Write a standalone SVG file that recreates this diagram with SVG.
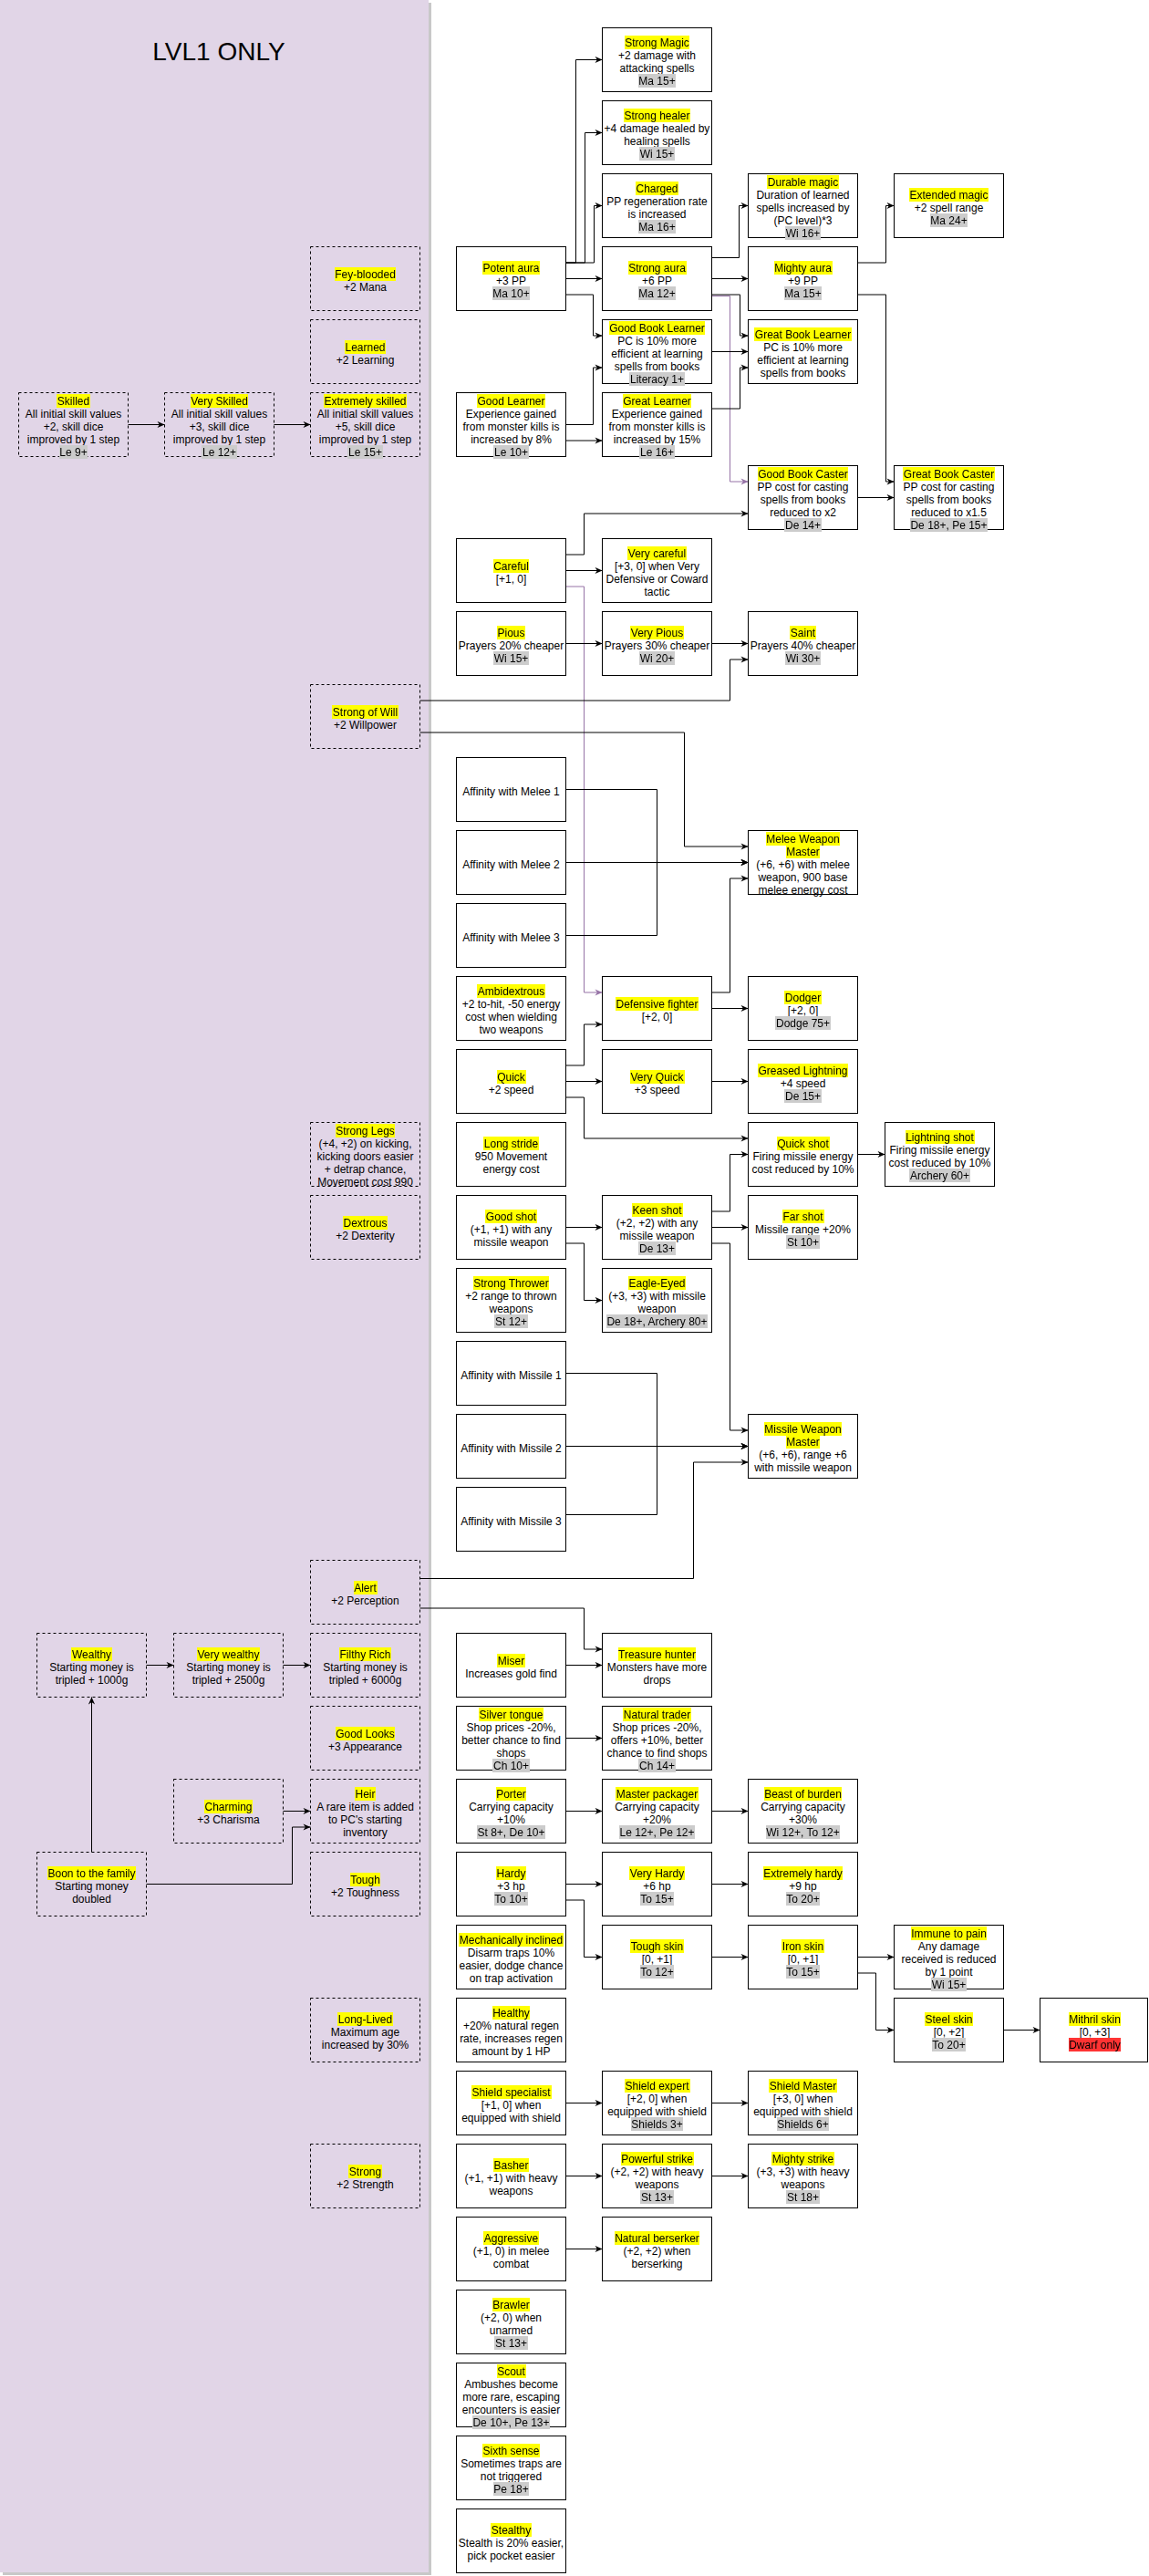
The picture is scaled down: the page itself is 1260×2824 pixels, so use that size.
<svg xmlns="http://www.w3.org/2000/svg" width="1260" height="2824" viewBox="0 0 1260 2824">
<defs>
<style>
text{font-family:"Liberation Sans",Arial,Helvetica,sans-serif;font-size:12px;text-anchor:middle;fill:#000}
.n rect{fill:#fff;stroke:#000;stroke-width:1}
.d rect{fill:none;stroke:#000;stroke-width:1;stroke-dasharray:3 3}
.t{filter:url(#hy)}
.r{filter:url(#hg)}
.w{filter:url(#hr)}
.e{fill:none;stroke:#000;stroke-width:1;marker-end:url(#a)}
.p{fill:none;stroke:#9673a6;stroke-width:1;marker-end:url(#ap)}
</style>
<filter id="hy" x="0" y="0" width="1" height="1" color-interpolation-filters="sRGB"><feFlood flood-color="#ffff00"/><feComposite in="SourceGraphic" operator="over"/></filter>
<filter id="hg" x="0" y="0" width="1" height="1" color-interpolation-filters="sRGB"><feFlood flood-color="#cccccc"/><feComposite in="SourceGraphic" operator="over"/></filter>
<filter id="hr" x="0" y="0" width="1" height="1" color-interpolation-filters="sRGB"><feFlood flood-color="#ff3333"/><feComposite in="SourceGraphic" operator="over"/></filter>
<marker id="a" viewBox="0 0 10 10" refX="10" refY="5" markerWidth="9" markerHeight="8" orient="auto" markerUnits="userSpaceOnUse"><path d="M0,0.5 L10,5 L0,9.5 L3,5 z" fill="#000"/></marker>
<marker id="ap" viewBox="0 0 10 10" refX="10" refY="5" markerWidth="9" markerHeight="8" orient="auto" markerUnits="userSpaceOnUse"><path d="M0,0.5 L10,5 L0,9.5 L3,5 z" fill="#9673a6"/></marker>
</defs>
<rect x="3" y="3" width="470" height="2820" fill="#c8c8c8"/>
<rect x="0" y="0" width="470" height="2820" fill="#e1d5e7"/>
<text x="240" y="66" style="font-size:28px">LVL1 ONLY</text>
<g transform="translate(0.5,0.5)">
<g id="edges">
<path class="e" d="M620,287.5H631V65H660"/>
<path class="e" d="M620,287.5H641V145H660"/>
<path class="e" d="M620,287.5H651V225H660"/>
<path class="e" d="M620,305H660"/>
<path class="e" d="M620,322.5H650V367.5H660"/>
<path class="e" d="M780,282H810V225H820"/>
<path class="e" d="M780,305H820"/>
<path class="p" d="M780,324H800V527.5H820"/>
<path class="e" d="M780,322.5H811V367.5H820"/>
<path class="e" d="M780,385H820"/>
<path class="e" d="M620,465H650V402.5H660"/>
<path class="e" d="M620,482.5H660"/>
<path class="e" d="M780,447.5H811V402.5H820"/>
<path class="e" d="M940,287.5H971V225H980"/>
<path class="e" d="M940,322.5H971V527.5H980"/>
<path class="e" d="M940,545H980"/>
<path class="e" d="M620,607.5H640V562.5H820"/>
<path class="e" d="M620,625H660"/>
<path class="p" d="M620,642.5H640V1087.5H660"/>
<path class="e" d="M620,705H660"/>
<path class="e" d="M780,705H820"/>
<path class="e" d="M460,767.5H800V722.5H820"/>
<path class="e" d="M460,802.5H750V927.5H820"/>
<path class="e" d="M620,865H720V945H820"/>
<path class="e" d="M620,945H820"/>
<path class="e" d="M620,1025H720V945H820"/>
<path class="e" d="M780,1087.5H800V962.5H820"/>
<path class="e" d="M780,1105H820"/>
<path class="e" d="M620,1167.5H640V1122.5H660"/>
<path class="e" d="M620,1185H660"/>
<path class="e" d="M780,1185H820"/>
<path class="e" d="M620,1202.5H640V1247.5H820"/>
<path class="e" d="M940,1265H970"/>
<path class="e" d="M620,1345H660"/>
<path class="e" d="M780,1327.5H800V1265H820"/>
<path class="e" d="M780,1345H820"/>
<path class="e" d="M620,1362.5H640V1425H660"/>
<path class="e" d="M780,1362.5H800V1567.5H820"/>
<path class="e" d="M620,1505H720V1585H820"/>
<path class="e" d="M620,1585H820"/>
<path class="e" d="M620,1660H720V1585H820"/>
<path class="e" d="M460,1730H760V1602.5H820"/>
<path class="e" d="M460,1762.5H640V1807.5H660"/>
<path class="e" d="M620,1825H660"/>
<path class="e" d="M160,1825H190"/>
<path class="e" d="M310,1825H340"/>
<path class="e" d="M620,1905H660"/>
<path class="e" d="M620,1985H660"/>
<path class="e" d="M780,1985H820"/>
<path class="e" d="M310,1985H340"/>
<path class="e" d="M160,2065H320V2002.5H340"/>
<path class="e" d="M100,2030V1860"/>
<path class="e" d="M620,2065H660"/>
<path class="e" d="M780,2065H820"/>
<path class="e" d="M620,2082.5H640V2145H660"/>
<path class="e" d="M780,2145H820"/>
<path class="e" d="M940,2145H980"/>
<path class="e" d="M940,2162.5H960V2225H980"/>
<path class="e" d="M1100,2225H1140"/>
<path class="e" d="M620,2305H660"/>
<path class="e" d="M780,2305H820"/>
<path class="e" d="M620,2385H660"/>
<path class="e" d="M780,2385H820"/>
<path class="e" d="M620,2465H660"/>
<path class="e" d="M140,465H180"/>
<path class="e" d="M300,465H340"/>
</g>

<g id="skilled" class="d"><rect x="20" y="430" width="120" height="70"/><text x="80" y="443" class="t">Skilled</text><text x="80" y="457">All initial skill values</text><text x="80" y="471">+2, skill dice</text><text x="80" y="485">improved by 1 step</text><text x="80" y="499" class="r">Le 9+</text></g>
<g id="very_skilled" class="d"><rect x="180" y="430" width="120" height="70"/><text x="240" y="443" class="t">Very Skilled</text><text x="240" y="457">All initial skill values</text><text x="240" y="471">+3, skill dice</text><text x="240" y="485">improved by 1 step</text><text x="240" y="499" class="r">Le 12+</text></g>
<g id="extremely_skilled" class="d"><rect x="340" y="430" width="120" height="70"/><text x="400" y="443" class="t">Extremely skilled</text><text x="400" y="457">All initial skill values</text><text x="400" y="471">+5, skill dice</text><text x="400" y="485">improved by 1 step</text><text x="400" y="499" class="r">Le 15+</text></g>
<g id="fey_blooded" class="d"><rect x="340" y="270" width="120" height="70"/><text x="400" y="304" class="t">Fey-blooded</text><text x="400" y="318">+2 Mana</text></g>
<g id="learned" class="d"><rect x="340" y="350" width="120" height="70"/><text x="400" y="384" class="t">Learned</text><text x="400" y="398">+2 Learning</text></g>
<g id="strong_of_will" class="d"><rect x="340" y="750" width="120" height="70"/><text x="400" y="784" class="t">Strong of Will</text><text x="400" y="798">+2 Willpower</text></g>
<g id="strong_legs" class="d"><rect x="340" y="1230" width="120" height="70"/><text x="400" y="1243" class="t">Strong Legs</text><text x="400" y="1257">(+4, +2) on kicking,</text><text x="400" y="1271">kicking doors easier</text><text x="400" y="1285">+ detrap chance,</text><text x="400" y="1299">Movement cost 990</text></g>
<g id="dextrous" class="d"><rect x="340" y="1310" width="120" height="70"/><text x="400" y="1344" class="t">Dextrous</text><text x="400" y="1358">+2 Dexterity</text></g>
<g id="alert" class="d"><rect x="340" y="1710" width="120" height="70"/><text x="400" y="1744" class="t">Alert</text><text x="400" y="1758">+2 Perception</text></g>
<g id="wealthy" class="d"><rect x="40" y="1790" width="120" height="70"/><text x="100" y="1817" class="t">Wealthy</text><text x="100" y="1831">Starting money is</text><text x="100" y="1845">tripled + 1000g</text></g>
<g id="very_wealthy" class="d"><rect x="190" y="1790" width="120" height="70"/><text x="250" y="1817" class="t">Very wealthy</text><text x="250" y="1831">Starting money is</text><text x="250" y="1845">tripled + 2500g</text></g>
<g id="filthy_rich" class="d"><rect x="340" y="1790" width="120" height="70"/><text x="400" y="1817" class="t">Filthy Rich</text><text x="400" y="1831">Starting money is</text><text x="400" y="1845">tripled + 6000g</text></g>
<g id="good_looks" class="d"><rect x="340" y="1870" width="120" height="70"/><text x="400" y="1904" class="t">Good Looks</text><text x="400" y="1918">+3 Appearance</text></g>
<g id="charming" class="d"><rect x="190" y="1950" width="120" height="70"/><text x="250" y="1984" class="t">Charming</text><text x="250" y="1998">+3 Charisma</text></g>
<g id="heir" class="d"><rect x="340" y="1950" width="120" height="70"/><text x="400" y="1970" class="t">Heir</text><text x="400" y="1984">A rare item is added</text><text x="400" y="1998">to PC's starting</text><text x="400" y="2012">inventory</text></g>
<g id="boon_to_the_family" class="d"><rect x="40" y="2030" width="120" height="70"/><text x="100" y="2057" class="t">Boon to the family</text><text x="100" y="2071">Starting money</text><text x="100" y="2085">doubled</text></g>
<g id="tough" class="d"><rect x="340" y="2030" width="120" height="70"/><text x="400" y="2064" class="t">Tough</text><text x="400" y="2078">+2 Toughness</text></g>
<g id="long_lived" class="d"><rect x="340" y="2190" width="120" height="70"/><text x="400" y="2217" class="t">Long-Lived</text><text x="400" y="2231">Maximum age</text><text x="400" y="2245">increased by 30%</text></g>
<g id="strong" class="d"><rect x="340" y="2350" width="120" height="70"/><text x="400" y="2384" class="t">Strong</text><text x="400" y="2398">+2 Strength</text></g>

<g id="strong_magic" class="n"><rect x="660" y="30" width="120" height="70"/><text x="720" y="50" class="t">Strong Magic</text><text x="720" y="64">+2 damage with</text><text x="720" y="78">attacking spells</text><text x="720" y="92" class="r">Ma 15+</text></g>
<g id="strong_healer" class="n"><rect x="660" y="110" width="120" height="70"/><text x="720" y="130" class="t">Strong healer</text><text x="720" y="144">+4 damage healed by</text><text x="720" y="158">healing spells</text><text x="720" y="172" class="r">Wi 15+</text></g>
<g id="charged" class="n"><rect x="660" y="190" width="120" height="70"/><text x="720" y="210" class="t">Charged</text><text x="720" y="224">PP regeneration rate</text><text x="720" y="238">is increased</text><text x="720" y="252" class="r">Ma 16+</text></g>
<g id="durable_magic" class="n"><rect x="820" y="190" width="120" height="70"/><text x="880" y="203" class="t">Durable magic</text><text x="880" y="217">Duration of learned</text><text x="880" y="231">spells increased by</text><text x="880" y="245">(PC level)*3</text><text x="880" y="259" class="r">Wi 16+</text></g>
<g id="extended_magic" class="n"><rect x="980" y="190" width="120" height="70"/><text x="1040" y="217" class="t">Extended magic</text><text x="1040" y="231">+2 spell range</text><text x="1040" y="245" class="r">Ma 24+</text></g>
<g id="potent_aura" class="n"><rect x="500" y="270" width="120" height="70"/><text x="560" y="297" class="t">Potent aura</text><text x="560" y="311">+3 PP</text><text x="560" y="325" class="r">Ma 10+</text></g>
<g id="strong_aura" class="n"><rect x="660" y="270" width="120" height="70"/><text x="720" y="297" class="t">Strong aura</text><text x="720" y="311">+6 PP</text><text x="720" y="325" class="r">Ma 12+</text></g>
<g id="mighty_aura" class="n"><rect x="820" y="270" width="120" height="70"/><text x="880" y="297" class="t">Mighty aura</text><text x="880" y="311">+9 PP</text><text x="880" y="325" class="r">Ma 15+</text></g>
<g id="good_book_learner" class="n"><rect x="660" y="350" width="120" height="70"/><text x="720" y="363" class="t">Good Book Learner</text><text x="720" y="377">PC is 10% more</text><text x="720" y="391">efficient at learning</text><text x="720" y="405">spells from books</text><text x="720" y="419" class="r">Literacy 1+</text></g>
<g id="great_book_learner" class="n"><rect x="820" y="350" width="120" height="70"/><text x="880" y="370" class="t">Great Book Learner</text><text x="880" y="384">PC is 10% more</text><text x="880" y="398">efficient at learning</text><text x="880" y="412">spells from books</text></g>
<g id="good_learner" class="n"><rect x="500" y="430" width="120" height="70"/><text x="560" y="443" class="t">Good Learner</text><text x="560" y="457">Experience gained</text><text x="560" y="471">from monster kills is</text><text x="560" y="485">increased by 8%</text><text x="560" y="499" class="r">Le 10+</text></g>
<g id="great_learner" class="n"><rect x="660" y="430" width="120" height="70"/><text x="720" y="443" class="t">Great Learner</text><text x="720" y="457">Experience gained</text><text x="720" y="471">from monster kills is</text><text x="720" y="485">increased by 15%</text><text x="720" y="499" class="r">Le 16+</text></g>
<g id="good_book_caster" class="n"><rect x="820" y="510" width="120" height="70"/><text x="880" y="523" class="t">Good Book Caster</text><text x="880" y="537">PP cost for casting</text><text x="880" y="551">spells from books</text><text x="880" y="565">reduced to x2</text><text x="880" y="579" class="r">De 14+</text></g>
<g id="great_book_caster" class="n"><rect x="980" y="510" width="120" height="70"/><text x="1040" y="523" class="t">Great Book Caster</text><text x="1040" y="537">PP cost for casting</text><text x="1040" y="551">spells from books</text><text x="1040" y="565">reduced to x1.5</text><text x="1040" y="579" class="r">De 18+, Pe 15+</text></g>
<g id="careful" class="n"><rect x="500" y="590" width="120" height="70"/><text x="560" y="624" class="t">Careful</text><text x="560" y="638">[+1, 0]</text></g>
<g id="very_careful" class="n"><rect x="660" y="590" width="120" height="70"/><text x="720" y="610" class="t">Very careful</text><text x="720" y="624">[+3, 0] when Very</text><text x="720" y="638">Defensive or Coward</text><text x="720" y="652">tactic</text></g>
<g id="pious" class="n"><rect x="500" y="670" width="120" height="70"/><text x="560" y="697" class="t">Pious</text><text x="560" y="711">Prayers 20% cheaper</text><text x="560" y="725" class="r">Wi 15+</text></g>
<g id="very_pious" class="n"><rect x="660" y="670" width="120" height="70"/><text x="720" y="697" class="t">Very Pious</text><text x="720" y="711">Prayers 30% cheaper</text><text x="720" y="725" class="r">Wi 20+</text></g>
<g id="saint" class="n"><rect x="820" y="670" width="120" height="70"/><text x="880" y="697" class="t">Saint</text><text x="880" y="711">Prayers 40% cheaper</text><text x="880" y="725" class="r">Wi 30+</text></g>
<g id="affinity_melee_1" class="n"><rect x="500" y="830" width="120" height="70"/><text x="560" y="871">Affinity with Melee 1</text></g>
<g id="affinity_melee_2" class="n"><rect x="500" y="910" width="120" height="70"/><text x="560" y="951">Affinity with Melee 2</text></g>
<g id="melee_weapon_master" class="n"><rect x="820" y="910" width="120" height="70"/><text x="880" y="923" class="t">Melee Weapon</text><text x="880" y="937" class="t">Master</text><text x="880" y="951">(+6, +6) with melee</text><text x="880" y="965">weapon, 900 base</text><text x="880" y="979">melee energy cost</text></g>
<g id="affinity_melee_3" class="n"><rect x="500" y="990" width="120" height="70"/><text x="560" y="1031">Affinity with Melee 3</text></g>
<g id="ambidextrous" class="n"><rect x="500" y="1070" width="120" height="70"/><text x="560" y="1090" class="t">Ambidextrous</text><text x="560" y="1104">+2 to-hit, -50 energy</text><text x="560" y="1118">cost when wielding</text><text x="560" y="1132">two weapons</text></g>
<g id="defensive_fighter" class="n"><rect x="660" y="1070" width="120" height="70"/><text x="720" y="1104" class="t">Defensive fighter</text><text x="720" y="1118">[+2, 0]</text></g>
<g id="dodger" class="n"><rect x="820" y="1070" width="120" height="70"/><text x="880" y="1097" class="t">Dodger</text><text x="880" y="1111">[+2, 0]</text><text x="880" y="1125" class="r">Dodge 75+</text></g>
<g id="quick" class="n"><rect x="500" y="1150" width="120" height="70"/><text x="560" y="1184" class="t">Quick</text><text x="560" y="1198">+2 speed</text></g>
<g id="very_quick" class="n"><rect x="660" y="1150" width="120" height="70"/><text x="720" y="1184" class="t">Very Quick</text><text x="720" y="1198">+3 speed</text></g>
<g id="greased_lightning" class="n"><rect x="820" y="1150" width="120" height="70"/><text x="880" y="1177" class="t">Greased Lightning</text><text x="880" y="1191">+4 speed</text><text x="880" y="1205" class="r">De 15+</text></g>
<g id="long_stride" class="n"><rect x="500" y="1230" width="120" height="70"/><text x="560" y="1257" class="t">Long stride</text><text x="560" y="1271">950 Movement</text><text x="560" y="1285">energy cost</text></g>
<g id="quick_shot" class="n"><rect x="820" y="1230" width="120" height="70"/><text x="880" y="1257" class="t">Quick shot</text><text x="880" y="1271">Firing missile energy</text><text x="880" y="1285">cost reduced by 10%</text></g>
<g id="lightning_shot" class="n"><rect x="970" y="1230" width="120" height="70"/><text x="1030" y="1250" class="t">Lightning shot</text><text x="1030" y="1264">Firing missile energy</text><text x="1030" y="1278">cost reduced by 10%</text><text x="1030" y="1292" class="r">Archery 60+</text></g>
<g id="good_shot" class="n"><rect x="500" y="1310" width="120" height="70"/><text x="560" y="1337" class="t">Good shot</text><text x="560" y="1351">(+1, +1) with any</text><text x="560" y="1365">missile weapon</text></g>
<g id="keen_shot" class="n"><rect x="660" y="1310" width="120" height="70"/><text x="720" y="1330" class="t">Keen shot</text><text x="720" y="1344">(+2, +2) with any</text><text x="720" y="1358">missile weapon</text><text x="720" y="1372" class="r">De 13+</text></g>
<g id="far_shot" class="n"><rect x="820" y="1310" width="120" height="70"/><text x="880" y="1337" class="t">Far shot</text><text x="880" y="1351">Missile range +20%</text><text x="880" y="1365" class="r">St 10+</text></g>
<g id="strong_thrower" class="n"><rect x="500" y="1390" width="120" height="70"/><text x="560" y="1410" class="t">Strong Thrower</text><text x="560" y="1424">+2 range to thrown</text><text x="560" y="1438">weapons</text><text x="560" y="1452" class="r">St 12+</text></g>
<g id="eagle_eyed" class="n"><rect x="660" y="1390" width="120" height="70"/><text x="720" y="1410" class="t">Eagle-Eyed</text><text x="720" y="1424">(+3, +3) with missile</text><text x="720" y="1438">weapon</text><text x="720" y="1452" class="r">De 18+, Archery 80+</text></g>
<g id="affinity_missile_1" class="n"><rect x="500" y="1470" width="120" height="70"/><text x="560" y="1511">Affinity with Missile 1</text></g>
<g id="affinity_missile_2" class="n"><rect x="500" y="1550" width="120" height="70"/><text x="560" y="1591">Affinity with Missile 2</text></g>
<g id="missile_weapon_master" class="n"><rect x="820" y="1550" width="120" height="70"/><text x="880" y="1570" class="t">Missile Weapon</text><text x="880" y="1584" class="t">Master</text><text x="880" y="1598">(+6, +6), range +6</text><text x="880" y="1612">with missile weapon</text></g>
<g id="affinity_missile_3" class="n"><rect x="500" y="1630" width="120" height="70"/><text x="560" y="1671">Affinity with Missile 3</text></g>
<g id="miser" class="n"><rect x="500" y="1790" width="120" height="70"/><text x="560" y="1824" class="t">Miser</text><text x="560" y="1838">Increases gold find</text></g>
<g id="treasure_hunter" class="n"><rect x="660" y="1790" width="120" height="70"/><text x="720" y="1817" class="t">Treasure hunter</text><text x="720" y="1831">Monsters have more</text><text x="720" y="1845">drops</text></g>
<g id="silver_tongue" class="n"><rect x="500" y="1870" width="120" height="70"/><text x="560" y="1883" class="t">Silver tongue</text><text x="560" y="1897">Shop prices -20%,</text><text x="560" y="1911">better chance to find</text><text x="560" y="1925">shops</text><text x="560" y="1939" class="r">Ch 10+</text></g>
<g id="natural_trader" class="n"><rect x="660" y="1870" width="120" height="70"/><text x="720" y="1883" class="t">Natural trader</text><text x="720" y="1897">Shop prices -20%,</text><text x="720" y="1911">offers +10%, better</text><text x="720" y="1925">chance to find shops</text><text x="720" y="1939" class="r">Ch 14+</text></g>
<g id="porter" class="n"><rect x="500" y="1950" width="120" height="70"/><text x="560" y="1970" class="t">Porter</text><text x="560" y="1984">Carrying capacity</text><text x="560" y="1998">+10%</text><text x="560" y="2012" class="r">St 8+, De 10+</text></g>
<g id="master_packager" class="n"><rect x="660" y="1950" width="120" height="70"/><text x="720" y="1970" class="t">Master packager</text><text x="720" y="1984">Carrying capacity</text><text x="720" y="1998">+20%</text><text x="720" y="2012" class="r">Le 12+, Pe 12+</text></g>
<g id="beast_of_burden" class="n"><rect x="820" y="1950" width="120" height="70"/><text x="880" y="1970" class="t">Beast of burden</text><text x="880" y="1984">Carrying capacity</text><text x="880" y="1998">+30%</text><text x="880" y="2012" class="r">Wi 12+, To 12+</text></g>
<g id="hardy" class="n"><rect x="500" y="2030" width="120" height="70"/><text x="560" y="2057" class="t">Hardy</text><text x="560" y="2071">+3 hp</text><text x="560" y="2085" class="r">To 10+</text></g>
<g id="very_hardy" class="n"><rect x="660" y="2030" width="120" height="70"/><text x="720" y="2057" class="t">Very Hardy</text><text x="720" y="2071">+6 hp</text><text x="720" y="2085" class="r">To 15+</text></g>
<g id="extremely_hardy" class="n"><rect x="820" y="2030" width="120" height="70"/><text x="880" y="2057" class="t">Extremely hardy</text><text x="880" y="2071">+9 hp</text><text x="880" y="2085" class="r">To 20+</text></g>
<g id="mechanically_inclined" class="n"><rect x="500" y="2110" width="120" height="70"/><text x="560" y="2130" class="t">Mechanically inclined</text><text x="560" y="2144">Disarm traps 10%</text><text x="560" y="2158">easier, dodge chance</text><text x="560" y="2172">on trap activation</text></g>
<g id="tough_skin" class="n"><rect x="660" y="2110" width="120" height="70"/><text x="720" y="2137" class="t">Tough skin</text><text x="720" y="2151">[0, +1]</text><text x="720" y="2165" class="r">To 12+</text></g>
<g id="iron_skin" class="n"><rect x="820" y="2110" width="120" height="70"/><text x="880" y="2137" class="t">Iron skin</text><text x="880" y="2151">[0, +1]</text><text x="880" y="2165" class="r">To 15+</text></g>
<g id="immune_to_pain" class="n"><rect x="980" y="2110" width="120" height="70"/><text x="1040" y="2123" class="t">Immune to pain</text><text x="1040" y="2137">Any damage</text><text x="1040" y="2151">received is reduced</text><text x="1040" y="2165">by 1 point</text><text x="1040" y="2179" class="r">Wi 15+</text></g>
<g id="healthy" class="n"><rect x="500" y="2190" width="120" height="70"/><text x="560" y="2210" class="t">Healthy</text><text x="560" y="2224">+20% natural regen</text><text x="560" y="2238">rate, increases regen</text><text x="560" y="2252">amount by 1 HP</text></g>
<g id="steel_skin" class="n"><rect x="980" y="2190" width="120" height="70"/><text x="1040" y="2217" class="t">Steel skin</text><text x="1040" y="2231">[0, +2]</text><text x="1040" y="2245" class="r">To 20+</text></g>
<g id="mithril_skin" class="n"><rect x="1140" y="2190" width="118" height="70"/><text x="1200" y="2217" class="t">Mithril skin</text><text x="1200" y="2231">[0, +3]</text><text x="1200" y="2245" class="w">Dwarf only</text></g>
<g id="shield_specialist" class="n"><rect x="500" y="2270" width="120" height="70"/><text x="560" y="2297" class="t">Shield specialist</text><text x="560" y="2311">[+1, 0] when</text><text x="560" y="2325">equipped with shield</text></g>
<g id="shield_expert" class="n"><rect x="660" y="2270" width="120" height="70"/><text x="720" y="2290" class="t">Shield expert</text><text x="720" y="2304">[+2, 0] when</text><text x="720" y="2318">equipped with shield</text><text x="720" y="2332" class="r">Shields 3+</text></g>
<g id="shield_master" class="n"><rect x="820" y="2270" width="120" height="70"/><text x="880" y="2290" class="t">Shield Master</text><text x="880" y="2304">[+3, 0] when</text><text x="880" y="2318">equipped with shield</text><text x="880" y="2332" class="r">Shields 6+</text></g>
<g id="basher" class="n"><rect x="500" y="2350" width="120" height="70"/><text x="560" y="2377" class="t">Basher</text><text x="560" y="2391">(+1, +1) with heavy</text><text x="560" y="2405">weapons</text></g>
<g id="powerful_strike" class="n"><rect x="660" y="2350" width="120" height="70"/><text x="720" y="2370" class="t">Powerful strike</text><text x="720" y="2384">(+2, +2) with heavy</text><text x="720" y="2398">weapons</text><text x="720" y="2412" class="r">St 13+</text></g>
<g id="mighty_strike" class="n"><rect x="820" y="2350" width="120" height="70"/><text x="880" y="2370" class="t">Mighty strike</text><text x="880" y="2384">(+3, +3) with heavy</text><text x="880" y="2398">weapons</text><text x="880" y="2412" class="r">St 18+</text></g>
<g id="aggressive" class="n"><rect x="500" y="2430" width="120" height="70"/><text x="560" y="2457" class="t">Aggressive</text><text x="560" y="2471">(+1, 0) in melee</text><text x="560" y="2485">combat</text></g>
<g id="natural_berserker" class="n"><rect x="660" y="2430" width="120" height="70"/><text x="720" y="2457" class="t">Natural berserker</text><text x="720" y="2471">(+2, +2) when</text><text x="720" y="2485">berserking</text></g>
<g id="brawler" class="n"><rect x="500" y="2510" width="120" height="70"/><text x="560" y="2530" class="t">Brawler</text><text x="560" y="2544">(+2, 0) when</text><text x="560" y="2558">unarmed</text><text x="560" y="2572" class="r">St 13+</text></g>
<g id="scout" class="n"><rect x="500" y="2590" width="120" height="70"/><text x="560" y="2603" class="t">Scout</text><text x="560" y="2617">Ambushes become</text><text x="560" y="2631">more rare, escaping</text><text x="560" y="2645">encounters is easier</text><text x="560" y="2659" class="r">De 10+, Pe 13+</text></g>
<g id="sixth_sense" class="n"><rect x="500" y="2670" width="120" height="70"/><text x="560" y="2690" class="t">Sixth sense</text><text x="560" y="2704">Sometimes traps are</text><text x="560" y="2718">not triggered</text><text x="560" y="2732" class="r">Pe 18+</text></g>
<g id="stealthy" class="n"><rect x="500" y="2750" width="120" height="70"/><text x="560" y="2777" class="t">Stealthy</text><text x="560" y="2791">Stealth is 20% easier,</text><text x="560" y="2805">pick pocket easier</text></g>
</g>
</svg>
